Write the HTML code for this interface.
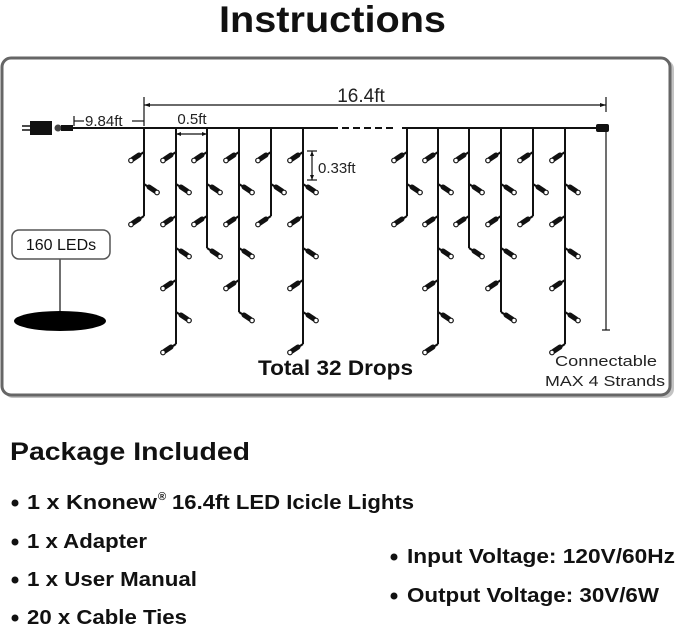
<!DOCTYPE html>
<html><head><meta charset="utf-8"><style>
html,body{margin:0;padding:0;background:#fff;}
body{width:679px;height:629px;overflow:hidden;position:relative;font-family:"Liberation Sans",Arial,sans-serif;}
</style></head><body>
<svg id="s" width="679" height="629" viewBox="0 0 679 629" xmlns="http://www.w3.org/2000/svg" style="position:absolute;left:0;top:0">
<text x="219" y="32" font-size="37" font-weight="bold" fill="#111" textLength="227" lengthAdjust="spacingAndGlyphs">Instructions</text>
<rect x="4" y="60" width="670" height="338" rx="9" fill="#888" opacity="0.5"/>
<rect x="2" y="58" width="668" height="337" rx="9" fill="#fff" stroke="#666" stroke-width="3"/>
<g stroke="#111" fill="none" stroke-width="1.2">
<line x1="144" y1="105" x2="606" y2="105"/>
<line x1="144" y1="97" x2="144" y2="126"/>
<line x1="606" y1="97" x2="606" y2="112"/>
<line x1="74" y1="121" x2="84" y2="121"/><line x1="74" y1="116" x2="74" y2="126"/>
<line x1="132" y1="121" x2="144" y2="121"/>
<line x1="176" y1="134" x2="207" y2="134"/>
<line x1="312" y1="151" x2="312" y2="180"/><line x1="307" y1="151" x2="317" y2="151"/><line x1="307" y1="180" x2="317" y2="180"/>
<line x1="606" y1="132" x2="606" y2="330"/><line x1="602" y1="330" x2="610" y2="330"/>
<line x1="60" y1="258" x2="60" y2="312"/>
</g>
<polygon points="144,105 150,103 150,107" fill="#111"/>
<polygon points="606,105 600,103 600,107" fill="#111"/>
<polygon points="176,134 181,132 181,136" fill="#111"/>
<polygon points="207,134 202,132 202,136" fill="#111"/>
<polygon points="312,151 310,156 314,156" fill="#111"/>
<polygon points="312,180 310,175 314,175" fill="#111"/>
<text x="361" y="102" font-size="19" text-anchor="middle" fill="#222">16.4ft</text>
<text x="85" y="126" font-size="15" fill="#222">9.84ft</text>
<text x="192" y="124" font-size="15" text-anchor="middle" fill="#222">0.5ft</text>
<text x="318" y="173" font-size="15" fill="#222">0.33ft</text>
<g stroke="#111" stroke-width="2">
<line x1="72" y1="128" x2="338" y2="128"/>
<line x1="342" y1="128" x2="396" y2="128" stroke-dasharray="7,4"/>
<line x1="402" y1="128" x2="598" y2="128"/>
<line x1="22" y1="126" x2="30" y2="126" stroke-width="1.5"/><line x1="22" y1="130" x2="30" y2="130" stroke-width="1.5"/>
</g>
<rect x="30" y="121" width="22" height="14" fill="#111"/>
<circle cx="58" cy="128" r="3.5" fill="#444"/>
<rect x="61" y="125" width="12" height="6" fill="#111"/>
<rect x="596" y="124" width="13" height="8" rx="2" fill="#111"/>
<g id="leds"></g>
<rect x="12" y="230" width="98" height="29" rx="7" fill="#fff" stroke="#555" stroke-width="1.5"/>
<text x="61" y="250" font-size="16" text-anchor="middle" fill="#111">160 LEDs</text>
<ellipse cx="60" cy="321" rx="46" ry="10" fill="#000"/>
<text x="258" y="375" font-size="21" font-weight="bold" fill="#111" textLength="155" lengthAdjust="spacingAndGlyphs">Total 32 Drops</text>
<text x="555" y="366" font-size="15" fill="#222" textLength="102" lengthAdjust="spacingAndGlyphs">Connectable</text>
<text x="545" y="386" font-size="15" fill="#222" textLength="120" lengthAdjust="spacingAndGlyphs">MAX 4 Strands</text>
<text x="10" y="460" font-size="25" font-weight="bold" fill="#111" textLength="240" lengthAdjust="spacingAndGlyphs">Package Included</text>
<g font-size="20" font-weight="bold" fill="#111">
<text x="27" y="509" textLength="130" lengthAdjust="spacingAndGlyphs">1 x Knonew</text>
<text x="158" y="500" font-size="11">®</text>
<text x="172" y="509" textLength="242" lengthAdjust="spacingAndGlyphs">16.4ft LED Icicle Lights</text>
<text x="27" y="548" textLength="120" lengthAdjust="spacingAndGlyphs">1 x Adapter</text>
<text x="27" y="586" textLength="170" lengthAdjust="spacingAndGlyphs">1 x User Manual</text>
<text x="27" y="624" textLength="160" lengthAdjust="spacingAndGlyphs">20 x Cable Ties</text>
<text x="407" y="563" textLength="268" lengthAdjust="spacingAndGlyphs">Input Voltage: 120V/60Hz</text>
<text x="407" y="602" textLength="252" lengthAdjust="spacingAndGlyphs">Output Voltage: 30V/6W</text>
</g>
<g fill="#111"><circle cx="15" cy="503" r="3.5"/><circle cx="15" cy="542" r="3.5"/><circle cx="15" cy="580" r="3.5"/><circle cx="15" cy="618" r="3.5"/><circle cx="394" cy="557" r="3.5"/><circle cx="394" cy="596" r="3.5"/></g>
</svg>
<script>
var g=document.getElementById('leds'),h='';
var cols=[[144,3],[176,7],[207,4],[239,6],[271,3],[303,7],[407,3],[438,7],[469,4],[501,6],[533,3],[565,7]];
cols.forEach(function(c){var x=c[0],n=c[1];var end=152+(n-1)*32;
h+='<line x1="'+x+'" y1="128" x2="'+x+'" y2="'+end+'" stroke="#111" stroke-width="2"/>';
for(var i=0;i<n;i++){var y=152+i*32,d=(i%2==0)?-1:1;
h+='<line x1="'+x+'" y1="'+y+'" x2="'+(x+d*6)+'" y2="'+(y+4)+'" stroke="#111" stroke-width="2"/>';
h+='<line x1="'+(x+d*5)+'" y1="'+(y+3)+'" x2="'+(x+d*11)+'" y2="'+(y+7)+'" stroke="#111" stroke-width="5" stroke-linecap="round"/>';
h+='<circle cx="'+(x+d*13)+'" cy="'+(y+8.5)+'" r="2.3" fill="#fff" stroke="#111" stroke-width="1.2"/>';}
});
g.innerHTML=h;
</script>
</body></html>
